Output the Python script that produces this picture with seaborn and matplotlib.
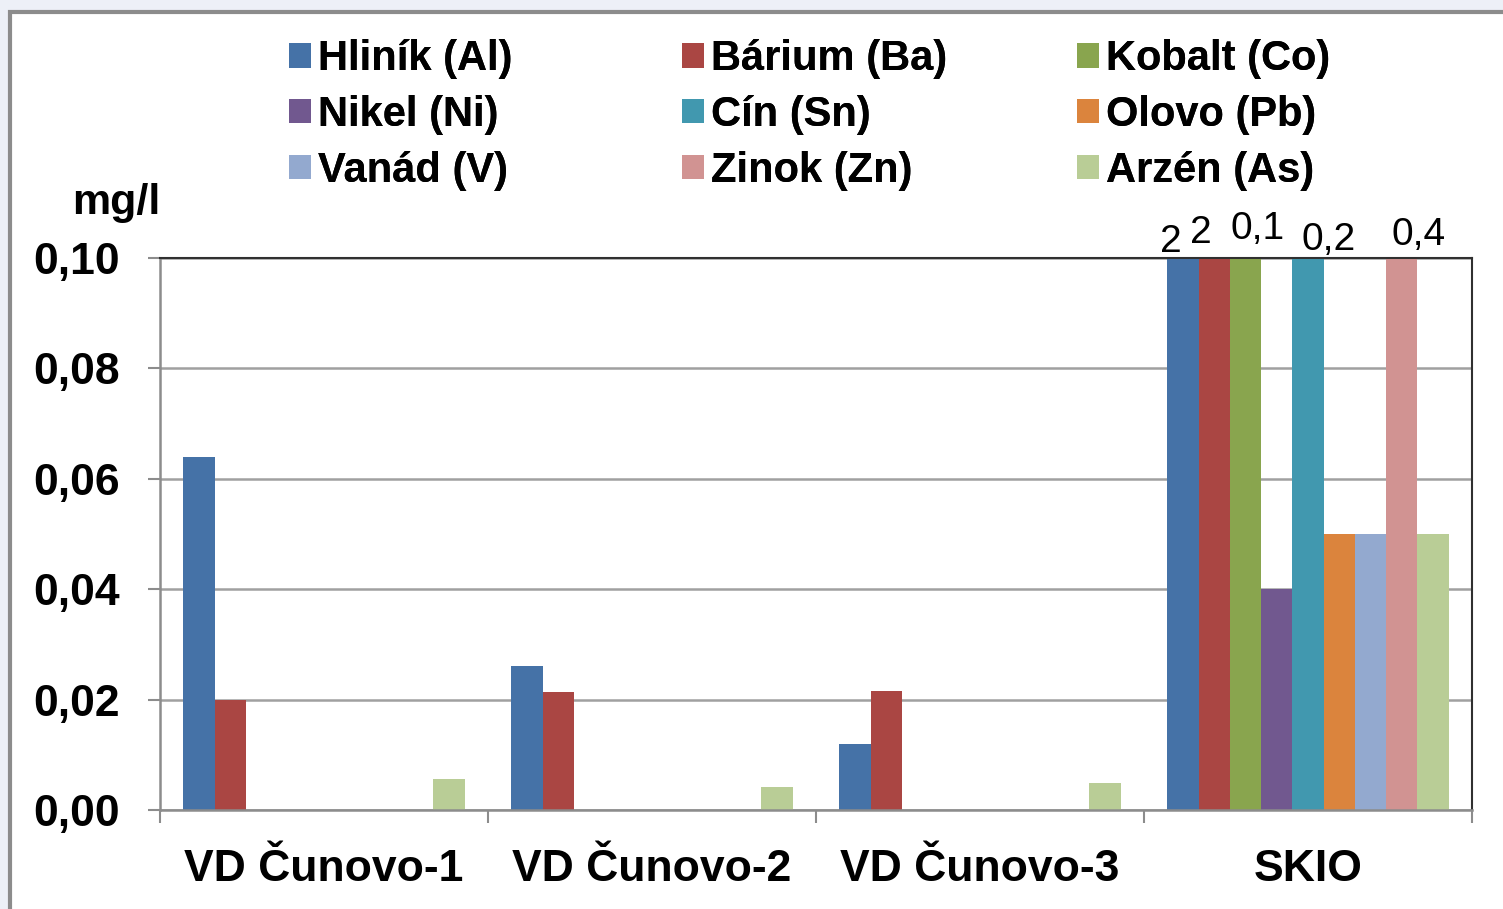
import numpy as np
import pandas as pd
import matplotlib
matplotlib.use("Agg")
import matplotlib.pyplot as plt
import seaborn as sns
from matplotlib.patches import Rectangle, Patch

# --- data ---
sites = ["VD Čunovo-1", "VD Čunovo-2", "VD Čunovo-3", "SKIO"]
elements = ["Hliník (Al)", "Bárium (Ba)", "Kobalt (Co)",
            "Nikel (Ni)", "Cín (Sn)", "Olovo (Pb)",
            "Vanád (V)", "Zinok (Zn)", "Arzén (As)"]
hlinik = [0.064, 0.026, 0.012, 2]
barium = [0.020, 0.0214, 0.0216, 2]
kobalt = [np.nan, np.nan, np.nan, 0.1]
nikel = [np.nan, np.nan, np.nan, 0.04]
cin = [np.nan, np.nan, np.nan, 0.2]
olovo = [np.nan, np.nan, np.nan, 0.05]
vanad = [np.nan, np.nan, np.nan, 0.05]
zinok = [np.nan, np.nan, np.nan, 0.4]
arzen = [0.0056, 0.0042, 0.0049, 0.05]
yticks = [0.00, 0.02, 0.04, 0.06, 0.08, 0.10]

colors = ["#4572A7", "#AA4643", "#89A54E", "#71588F", "#4198AF",
          "#DB843D", "#93A9CF", "#D19392", "#B9CD96"]

series = [hlinik, barium, kobalt, nikel, cin, olovo, vanad, zinok, arzen]
rows = []
for el, vals in zip(elements, series):
    for s, v in zip(sites, vals):
        rows.append({"site": s, "element": el, "value": v})
df = pd.DataFrame(rows).dropna()

# --- style ---
sns.set_theme(style="white")
plt.rcParams["font.family"] = ["Liberation Sans", "DejaVu Sans"]
plt.rcParams["text.color"] = "black"
plt.rcParams["xtick.labelcolor"] = "black"
plt.rcParams["ytick.labelcolor"] = "black"

W, H = 1503, 909
fig = plt.figure(figsize=(W / 100, H / 100), dpi=100, facecolor="#edf0f7")
fig.add_artist(Rectangle((10 / W, -0.1), 1.2, 1.1 - 12 / H,
                         transform=fig.transFigure, facecolor="white",
                         edgecolor="#8c8c8c", linewidth=3, zorder=0))

ax = fig.add_axes([160 / W, 1 - 810 / H, (1472 - 160) / W, (810 - 258) / H])
ax.set_facecolor("white")

sns.barplot(data=df, x="site", y="value", hue="element", order=sites,
            hue_order=elements, palette=colors, width=0.857, saturation=1,
            errorbar=None, legend=False, linewidth=0, ax=ax)

ymax = 0.1
ax.set_xlim(-0.5, 3.5)
ax.set_ylim(0, ymax)
ax.set_yticks(yticks)
ax.set_yticklabels([f"{t:.2f}".replace(".", ",") for t in yticks],
                   fontsize=32, fontweight="bold")
ax.set_xticks(range(len(sites)))
ax.set_xticklabels(sites, fontsize=32, fontweight="bold")
ax.set_xticks(np.arange(-0.5, 4, 1), minor=True)
ax.tick_params(axis="x", which="major", length=0, pad=28)
ax.tick_params(axis="x", which="minor", length=9, width=1.5, color="#8c8c8c",
               direction="out", bottom=True)
ax.tick_params(axis="y", length=9, width=1.5, color="#8c8c8c",
               direction="out", left=True, pad=20)
ax.set_xlabel("")
ax.set_ylabel("")
ax.yaxis.grid(True, color="#a0a0a0", linewidth=1.8)
ax.set_axisbelow(True)
for side in ["left", "bottom"]:
    ax.spines[side].set_color("#8c8c8c")
    ax.spines[side].set_linewidth(1.8)
for side in ["top", "right"]:
    ax.spines[side].set_color("#303030")
    ax.spines[side].set_linewidth(1.5)

# labels for bars reaching the axis top (offsets in points)
label_offsets = [(-9, 4), (-10, 11), (9, 14), (15, 6), (12, 9)]
clipped = []
for cont in ax.containers:
    for bar in cont:
        if bar.get_height() >= ymax - 1e-9:
            clipped.append(bar)
for bar, (dx, dy) in zip(clipped, label_offsets):
    ax.annotate(f"{bar.get_height():g}".replace(".", ","),
                (bar.get_x() + bar.get_width() / 2, ymax),
                xytext=(dx, dy), textcoords="offset points",
                ha="center", va="baseline", fontsize=28, color="black",
                annotation_clip=False)

fig.text(72 / W, 1 - 203 / H, "mg/l", fontsize=31, fontweight="bold",
         ha="left", va="center")

# legend: three columns placed like the original
col_x = [289, 682, 1077]
for ci, x0 in enumerate(col_x):
    idx = [ci, ci + 3, ci + 6]
    handles = [Patch(facecolor=colors[i], edgecolor="none") for i in idx]
    leg = fig.legend(handles, [elements[i] for i in idx],
                     loc="upper left", bbox_to_anchor=(x0 / W, 1 - 39 / H),
                     frameon=False, prop={"size": 30, "weight": "bold"},
                     handlelength=0.53, handleheight=0.53,
                     handletextpad=0.17, labelspacing=0.38,
                     borderaxespad=0, borderpad=0)
    fig.add_artist(leg)

fig.savefig("out.png", dpi=100, facecolor=fig.get_facecolor())
